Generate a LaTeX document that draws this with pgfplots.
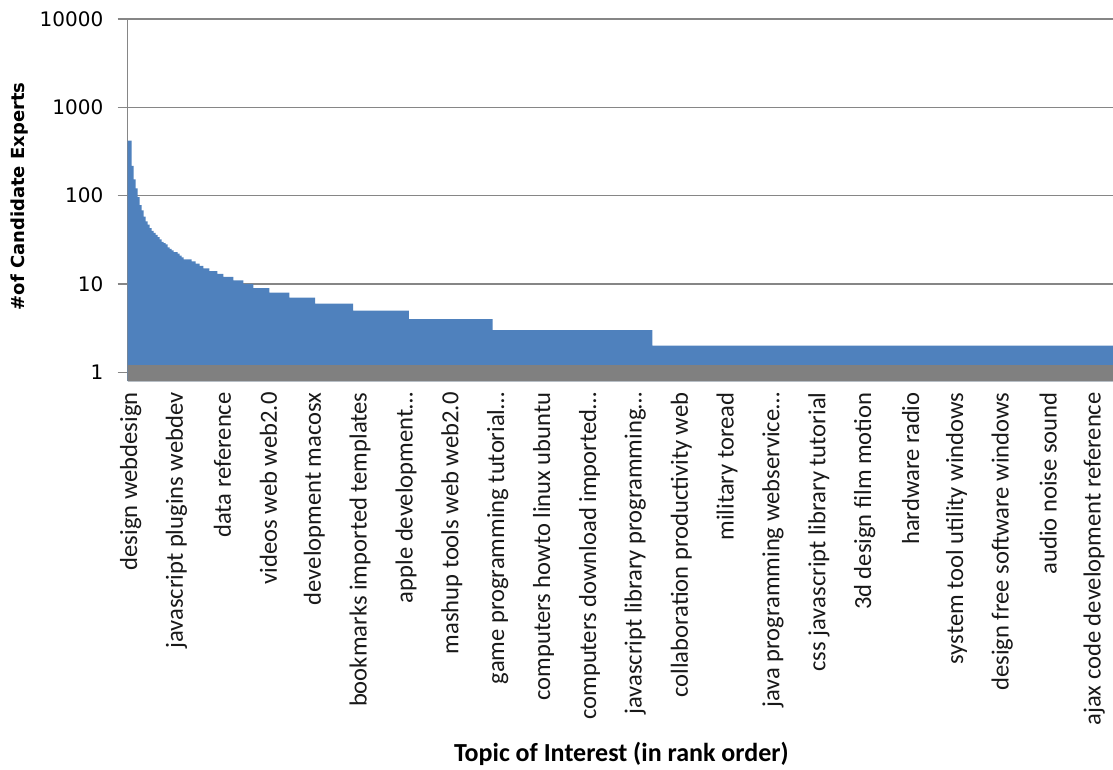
\documentclass[border=0pt]{standalone}
\usepackage{fontspec}
\usepackage{pgfplots}
\pgfplotsset{compat=1.18}
\setmainfont{Carlito}
\newfontfamily\dejavu{DejaVu Sans}
\definecolor{areablue}{RGB}{79,129,189}
\definecolor{floorgray}{RGB}{128,128,128}
\definecolor{gridgray}{RGB}{134,134,134}
\begin{document}
\begin{tikzpicture}
\begin{axis}[
  name=ax,
  scale only axis,
  width=492.65pt, height=181pt,
  ymode=log,
  xmin=1, xmax=495,
  ymin=0.797, ymax=10000,
  axis lines*=left,
  x axis line style={-, draw=black!22, line width=0.6pt},
  y axis line style={-, draw=gridgray, line width=0.65pt},
  ymajorgrids,
  grid style={draw=gridgray, line width=0.65pt},
  ytick={1,10,100,1000,10000},
  yticklabels={1,10,100,1000,10000},
  yminorticks=false,
  ytick pos=left,
  tick align=outside,
  major tick length=5pt,
  ytick style={draw=gridgray, line width=0.65pt},
  yticklabel style={font=\dejavu\fontsize{10}{12}\selectfont, text=black, inner sep=1pt, xshift=-6pt},
  xtick={1,24,47,70,93,116,139,162,185,208,231,254,277,300,323,346,369,392,415,438,461,484},
  xtick style={draw=none},
  xticklabels={{design webdesign}, {javascript plugins webdev}, {data reference}, {videos web web2.0}, {development macosx}, {bookmarks imported templates}, {apple development\dots}, {mashup tools web web2.0}, {game programming tutorial\dots}, {computers howto linux ubuntu}, {computers download imported\dots}, {javascript library programming\dots}, {collaboration productivity web}, {military toread}, {java programming webservice\dots}, {css javascript library tutorial}, {3d design film motion}, {hardware radio}, {system tool utility windows}, {design free software windows}, {audio noise sound}, {ajax code development reference}},
  xticklabel style={rotate=90, anchor=east, font=\fontsize{12.3}{14}\selectfont, text=black!90, inner sep=0pt, yshift=-1.5pt, xshift=-0.5pt},
  xlabel={Topic of Interest (in rank order)},
  xlabel style={at={(axis description cs:0.501,0)}, anchor=center, yshift=-186.5pt, font=\bfseries\fontsize{13}{15}\selectfont},
  ylabel={\#of Candidate Experts},
  ylabel style={at={(axis description cs:0,0.51)}, anchor=center, yshift=53.9pt, font=\dejavu\bfseries\fontsize{9}{11}\selectfont},
]
% ranked counts, values held until the next rank listed
\addplot[const plot, fill=areablue, draw=none] coordinates {
 (1,0.797) (1,420) (3,217) (4,153) (5,121) (6,96) (7,78) (8,68) (9,58)
 (10,51) (11,47) (12,43) (13,40) (14,38) (15,36) (16,34) (17,32) (18,30)
 (19,29) (20,28) (21,26) (22,25) (23,24) (24,23) (26,22) (27,21) (28,20)
 (29,19) (33,18) (35,17) (37,16) (39,15) (42,14) (46,13) (49,12) (54,11)
 (59,10) (64,9) (72,8) (82,7) (95,6) (114,5) (142,4) (184,3) (264,2)
 (495,2) (495,0.797)} -- cycle;
% floor band
\addplot[fill=floorgray, draw=none] coordinates {
 (1,0.797) (1,1.225) (495,1.225) (495,0.797)} -- cycle;
\end{axis}
\pgfresetboundingbox
\path[use as bounding box] ([xshift=-63.85pt,yshift=-194pt]ax.south west) rectangle ([yshift=9.5pt]ax.north east);
\end{tikzpicture}
\end{document}
